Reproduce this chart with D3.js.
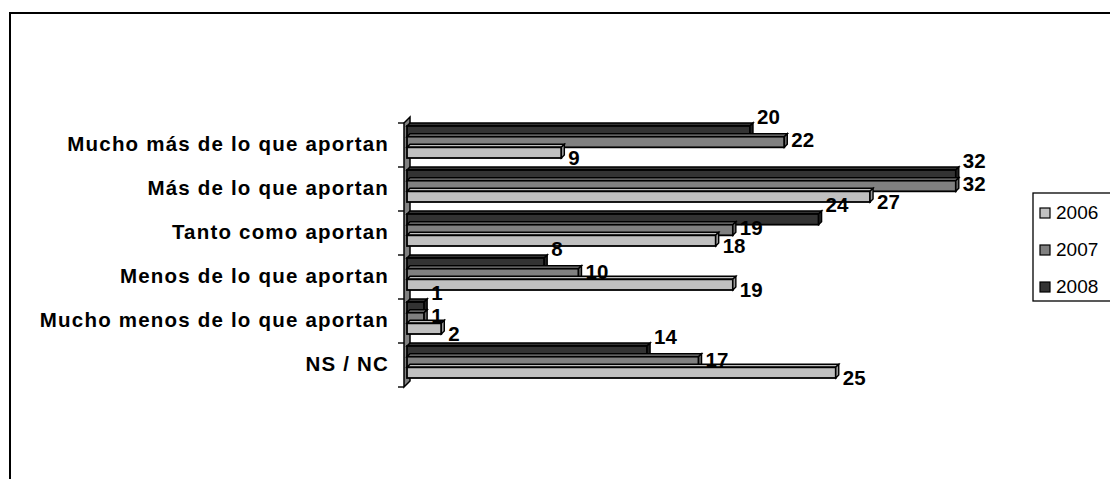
<!DOCTYPE html>
<html>
<head>
<meta charset="utf-8">
<script src="https://cdn.jsdelivr.net/npm/d3@7"></script>
<style>
  html, body { margin: 0; padding: 0; background: #fff; }
  svg { display: block; }
  text { font-family: "Liberation Sans", Arial, sans-serif; }
</style>
</head>
<body>
<svg id="chart" width="1110" height="479"></svg>
<script>
// Survey answers (categories, top to bottom)
const categories = [
  "Mucho más de lo que aportan",
  "Más de lo que aportan",
  "Tanto como aportan",
  "Menos de lo que aportan",
  "Mucho menos de lo que aportan",
  "NS / NC"
];
// Series, drawn top to bottom inside each group
const years = ["2008", "2007", "2006"];
const values2008 = [20, 32, 24, 8, 1, 14];
const values2007 = [22, 32, 19, 10, 1, 17];
const values2006 = [9, 27, 18, 19, 2, 25];
// Legend order
const legendYears = ["2006", "2007", "2008"];

const seriesValues = { "2008": values2008, "2007": values2007, "2006": values2006 };
const fills = { "2006": "#c0c0c0", "2007": "#808080", "2008": "#333333" };
const sideFills = { "2006": "#9a9a9a", "2007": "#666666", "2008": "#222222" };

const svg = d3.select("#chart");

// Outer chart frame
svg.append("rect")
  .attr("x", 10).attr("y", 13)
  .attr("width", 1120).attr("height", 480)
  .attr("fill", "none").attr("stroke", "#000").attr("stroke-width", 2);

const x = d3.scaleLinear().domain([0, 32]).range([407, 955.8]);
const y = d3.scaleBand().domain(categories).range([123, 387]);
const inner = d3.scaleBand().domain(years).range([3, 35]);
const depth = 3;

// 3D side wall behind the bars
const wallL = 404, wallR = 410;
svg.append("path")
  .attr("d", `M${wallL},${y.range()[0]} L${wallR},${y.range()[0] - 6} L${wallR},${y.range()[1] - 6} L${wallL},${y.range()[1]} Z`)
  .attr("fill", "#808080").attr("stroke", "#000").attr("stroke-width", 1.5);

// Category tick marks on the wall edge
const tickYs = categories.map(c => y(c)).concat([y.range()[1]]);
svg.selectAll("line.tick").data(tickYs).join("line")
  .attr("class", "tick")
  .attr("x1", 398).attr("x2", wallL)
  .attr("y1", d => d).attr("y2", d => d)
  .attr("stroke", "#000").attr("stroke-width", 1.4);

// Category labels
svg.selectAll("text.cat").data(categories).join("text")
  .attr("class", "cat")
  .attr("x", 389)
  .attr("y", d => y(d) + y.bandwidth() / 2 + 1)
  .attr("text-anchor", "end")
  .attr("dominant-baseline", "middle")
  .attr("font-size", 20.5)
  .attr("font-weight", "bold")
  .attr("letter-spacing", 1.2)
  .text(d => d);

// Bars
const bars = [];
categories.forEach((c, i) => {
  years.forEach(yr => {
    bars.push({ cat: c, year: yr, value: seriesValues[yr][i] });
  });
});

const g = svg.append("g");
bars.forEach(b => {
  const x0 = x(0), x1 = x(b.value);
  const top = y(b.cat) + inner(b.year);
  const h = inner.bandwidth();
  // top face
  g.append("path")
    .attr("d", `M${x0},${top} L${x0 + depth},${top - depth} L${x1 + depth},${top - depth} L${x1},${top} Z`)
    .attr("fill", fills[b.year]).attr("stroke", "#000").attr("stroke-width", 1.5);
  // front face
  g.append("rect")
    .attr("x", x0).attr("y", top)
    .attr("width", x1 - x0).attr("height", h)
    .attr("fill", fills[b.year]).attr("stroke", "#000").attr("stroke-width", 1.8);
  // right end face
  g.append("path")
    .attr("d", `M${x1},${top} L${x1 + depth},${top - depth} L${x1 + depth},${top + h - depth} L${x1},${top + h} Z`)
    .attr("fill", sideFills[b.year]).attr("stroke", "#000").attr("stroke-width", 1.4);
});

// Value labels
const labelDy = { "2008": -13, "2007": 0, "2006": 7 };
svg.selectAll("text.val").data(bars).join("text")
  .attr("class", "val")
  .attr("x", d => x(d.value) + depth + 4)
  .attr("y", d => y(d.cat) + inner(d.year) + inner.bandwidth() / 2 + labelDy[d.year])
  .attr("dominant-baseline", "middle")
  .attr("font-size", 20.5)
  .attr("font-weight", "bold")
  .text(d => d.value);

// Legend
const lg = svg.append("g");
lg.append("rect")
  .attr("x", 1033).attr("y", 193)
  .attr("width", 100).attr("height", 108)
  .attr("fill", "#fff").attr("stroke", "#000").attr("stroke-width", 1.3);
const ly = d3.scalePoint().domain(legendYears).range([213, 287]);
legendYears.forEach(yr => {
  lg.append("rect")
    .attr("x", 1040).attr("y", ly(yr) - 5)
    .attr("width", 10).attr("height", 10)
    .attr("fill", fills[yr]).attr("stroke", "#000").attr("stroke-width", 1.2);
  lg.append("text")
    .attr("x", 1056).attr("y", ly(yr) + 1)
    .attr("dominant-baseline", "middle")
    .attr("font-size", 19)
    .text(yr);
});
</script>
</body>
</html>
